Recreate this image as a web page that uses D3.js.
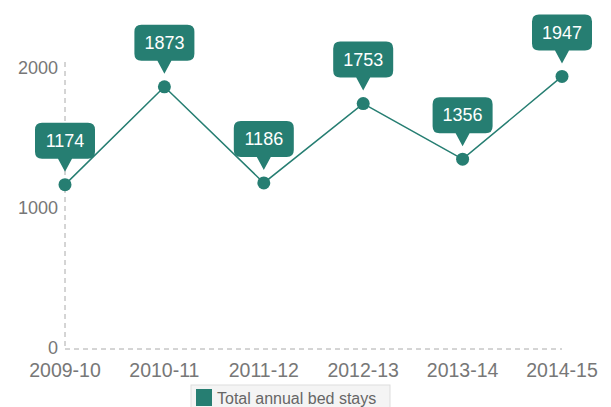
<!DOCTYPE html>
<html><head><meta charset="utf-8">
<script src="https://cdn.jsdelivr.net/npm/d3@7"></script>
<style>body{margin:0;background:#fff;font-family:"Liberation Sans",Arial,sans-serif;}</style>
</head><body>
<svg id="c" width="611" height="407"></svg>
<script>
const categories = ["2009-10","2010-11","2011-12","2012-13","2013-14","2014-15"];
const values = [1174,1873,1186,1753,1356,1947];
const yTicks = [0,1000,2000];
const seriesName = "Total annual bed stays";
const color = "#267e72";

const svg = d3.select("#c");
const x = d3.scalePoint().domain(categories).range([65,562]);
const y = d3.scaleLinear().domain([0,2000]).range([349,69]);

svg.append("line").attr("x1",65).attr("x2",65).attr("y1",62).attr("y2",y(0))
  .attr("stroke","#aaa").attr("stroke-dasharray","5,4");
svg.append("line").attr("x1",65).attr("x2",562).attr("y1",y(0)).attr("y2",y(0))
  .attr("stroke","#aaa").attr("stroke-dasharray","5,4");

svg.selectAll(".yt").data(yTicks).enter().append("text")
  .attr("x",58).attr("y",d=>y(d)-1).attr("dy","0.35em").attr("text-anchor","end")
  .attr("font-size",18).attr("fill","#777").text(d=>d);

svg.selectAll(".xt").data(categories).enter().append("text")
  .attr("x",d=>x(d)).attr("y",377).attr("text-anchor","middle")
  .attr("font-size",19.5).attr("fill","#777").text(d=>d);

const data = categories.map((c,i)=>({c,v:values[i]}));
svg.append("path").datum(data)
  .attr("d",d3.line().x(d=>x(d.c)).y(d=>y(d.v)))
  .attr("fill","none").attr("stroke",color).attr("stroke-width",1.5);
svg.selectAll(".pt").data(data).enter().append("circle")
  .attr("cx",d=>x(d.c)).attr("cy",d=>y(d.v)).attr("r",6.5).attr("fill",color);

const bw=60,bh=36;
const g = svg.selectAll(".co").data(data).enter().append("g")
  .attr("transform",d=>`translate(${x(d.c)},${y(d.v)})`);
g.append("path").attr("fill",color).attr("d",()=>{
  const r=7, l=-bw/2, t=-26-bh, b=-26, rr=bw/2;
  return `M${l+r},${t} H${rr-r} Q${rr},${t} ${rr},${t+r} V${b-r} Q${rr},${b} ${rr-r},${b} H7 L0,-13 L-7,${b} H${l+r} Q${l},${b} ${l},${b-r} V${t+r} Q${l},${t} ${l+r},${t} Z`;
});
g.append("text").attr("x",0).attr("y",-26-bh/2).attr("dy","0.35em").attr("text-anchor","middle")
  .attr("fill","#fff").attr("font-size",18).text(d=>d.v);

const lg = svg.append("g");
lg.append("rect").attr("x",191).attr("y",385).attr("width",199).attr("height",24)
  .attr("fill","#f4f4f4").attr("stroke","#ddd");
lg.append("rect").attr("x",196).attr("y",389).attr("width",16).attr("height",17).attr("fill",color);
lg.append("text").attr("x",217).attr("y",398).attr("dy","0.35em").attr("font-size",16)
  .attr("fill","#666").text(seriesName);
</script>
</body></html>
